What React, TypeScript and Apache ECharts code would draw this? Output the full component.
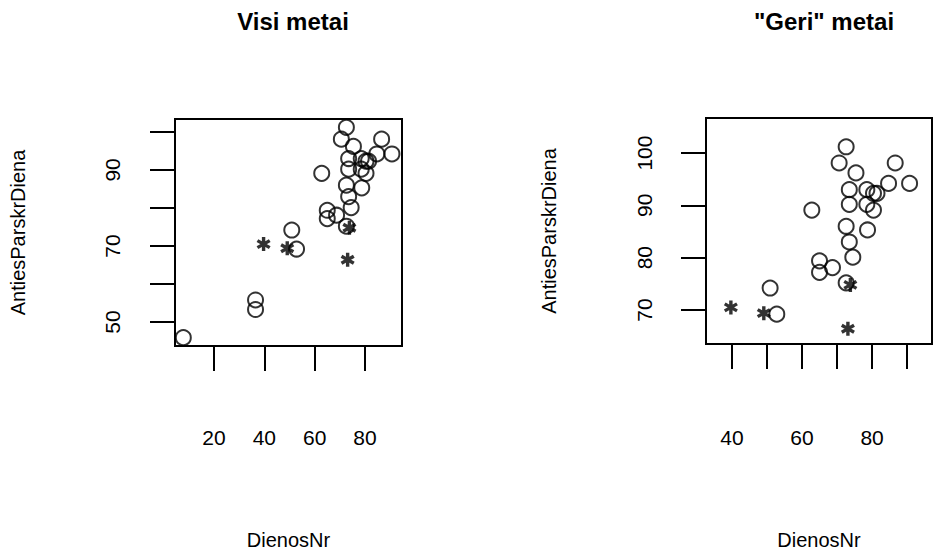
import React, { useEffect, useRef } from "react";
import * as echarts from "echarts";

// ---- data ----
const panelTitles = ["Visi metai", '"Geri" metai'];
const xName = "DienosNr";
const yName = "AntiesParskrDiena";

// circles present in both panels
const circX = [72.6, 70.6, 75.4, 86.6, 84.7, 90.7, 73.5, 78.5, 80.4, 81.4, 73.5, 78.5, 80.4, 62.8, 72.6, 78.7, 73.5, 74.5, 65.0, 65.0, 68.7, 72.6, 50.9, 52.8];
const circY = [101.2, 98.1, 96.2, 98.1, 94.2, 94.2, 93.0, 93.0, 92.3, 92.3, 90.2, 90.2, 89.1, 89.1, 86.0, 85.3, 83.0, 80.1, 79.4, 77.2, 78.1, 75.2, 74.2, 69.2];
// circles only in "Visi metai"
const extraX = [7.8, 36.5, 36.5];
const extraY = [45.9, 55.8, 53.3];
// asterisks (both panels)
const starX = [39.7, 49.1, 73.8, 73.1];
const starY = [70.5, 69.4, 74.8, 66.4];

// axes
const leftXTicks = [20, 40, 60, 80];
const leftXLabels = [20, 40, 60, 80];
const leftYTicks = [50, 60, 70, 80, 90, 100];
const leftYLabels = [50, 70, 90];
const rightXTicks = [40, 50, 60, 70, 80, 90];
const rightXLabels = [40, 60, 80];
const rightYTicks = [70, 80, 90, 100];
const rightYLabels = [70, 80, 90, 100];

const FONT = "'Liberation Sans', Arial, Helvetica, sans-serif";

const STAR =
  "path://M-2.4 -10 L2.4 -10 L2.4 10 L-2.4 10 Z M7.46 -7.08 L9.86 -2.92 L-7.46 7.08 L-9.86 2.92 Z M-9.86 -2.92 L-7.46 -7.08 L9.86 2.92 L7.46 7.08 Z";

function pairs(xs: number[], ys: number[]) {
  return xs.map((x, i) => [x, ys[i]]);
}

function xAxisCfg(gridIndex: number, min: number, max: number, ticks: number[], labels: number[], margin: number, gap: number) {
  return {
    type: "value",
    gridIndex,
    min,
    max,
    position: "bottom",
    splitLine: { show: false },
    axisLine: { show: true, lineStyle: { color: "#000", width: 2 } },
    axisTick: { show: true, length: 25, inside: false, customValues: ticks, lineStyle: { color: "#000", width: 2 } },
    axisLabel: { show: true, customValues: labels, margin, color: "#000", fontSize: 21, fontFamily: FONT },
    name: xName,
    nameLocation: "middle",
    nameGap: gap,
    nameTextStyle: { color: "#000", fontSize: 20, fontFamily: FONT },
  };
}

function yAxisCfg(gridIndex: number, min: number, max: number, ticks: number[], labels: number[], margin: number, gap: number) {
  return {
    type: "value",
    gridIndex,
    min,
    max,
    position: "left",
    splitLine: { show: false },
    axisLine: { show: true, lineStyle: { color: "#000", width: 2 } },
    axisTick: { show: true, length: 25, inside: false, customValues: ticks, lineStyle: { color: "#000", width: 2 } },
    axisLabel: { show: true, customValues: labels, rotate: 90, margin, color: "#000", fontSize: 21, fontFamily: FONT },
    name: yName,
    nameLocation: "middle",
    nameGap: gap,
    nameRotate: 90,
    nameTextStyle: { color: "#000", fontSize: 20, fontFamily: FONT },
  };
}

export default function App() {
  const ref = useRef<HTMLDivElement>(null);
  useEffect(() => {
    if (!ref.current) return;
    const chart = echarts.init(ref.current, null, { renderer: "svg" });
    const circleStyle = { color: "rgba(0,0,0,0)", borderColor: "#000", borderWidth: 2 };
    const starStyle = { color: "#000", borderWidth: 0 };
    chart.setOption({
      animation: false,
      backgroundColor: "#fff",
      title: [
        { text: panelTitles[0], left: 288, top: 4, textAlign: "center", textStyle: { color: "#000", fontSize: 24, fontWeight: "bold", fontFamily: FONT } },
        { text: panelTitles[1], left: 819, top: 4, textAlign: "center", textStyle: { color: "#000", fontSize: 24, fontWeight: "bold", fontFamily: FONT } },
      ],
      grid: [
        { left: 175, top: 119, width: 227, height: 227, show: true, borderColor: "#000", borderWidth: 2, backgroundColor: "transparent" },
        { left: 706, top: 118, width: 226, height: 226, show: true, borderColor: "#000", borderWidth: 2, backgroundColor: "transparent" },
      ],
      xAxis: [
        xAxisCfg(0, 4.5, 94.7, leftXTicks, leftXLabels, 81, 184),
        xAxisCfg(1, 32.6, 97.1, rightXTicks, rightXLabels, 83, 186),
      ],
      yAxis: [
        yAxisCfg(0, 43.7, 103.4, leftYTicks, leftYLabels, 52, 147),
        yAxisCfg(1, 63.5, 106.7, rightYTicks, rightYLabels, 51, 147),
      ],
      series: [
        { type: "scatter", xAxisIndex: 0, yAxisIndex: 0, symbol: "circle", symbolSize: 15, itemStyle: circleStyle, data: pairs(circX.concat(extraX), circY.concat(extraY)) },
        { type: "scatter", xAxisIndex: 0, yAxisIndex: 0, symbol: STAR, symbolSize: 14, itemStyle: starStyle, data: pairs(starX, starY) },
        { type: "scatter", xAxisIndex: 1, yAxisIndex: 1, symbol: "circle", symbolSize: 15, itemStyle: circleStyle, data: pairs(circX, circY) },
        { type: "scatter", xAxisIndex: 1, yAxisIndex: 1, symbol: STAR, symbolSize: 14, itemStyle: starStyle, data: pairs(starX, starY) },
      ],
    });
    return () => chart.dispose();
  }, []);
  return <div ref={ref} style={{ position: "fixed", left: 0, top: 0, width: 939, height: 552 }} />;
}
